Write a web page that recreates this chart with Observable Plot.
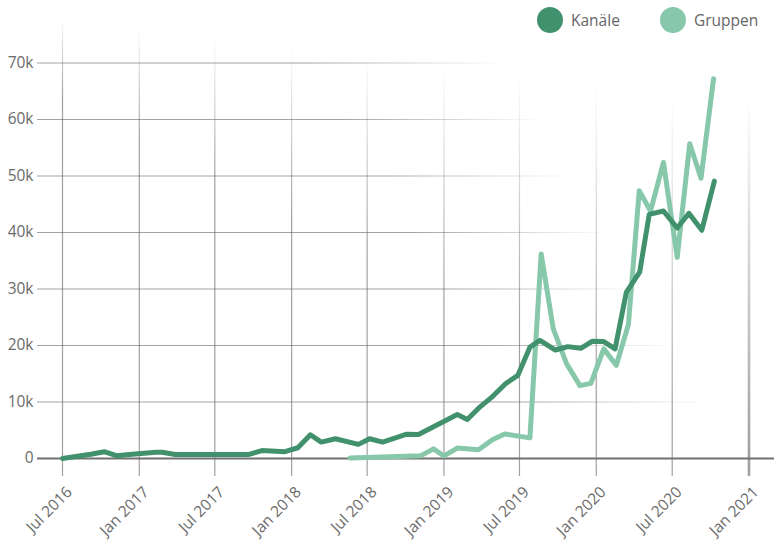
<!DOCTYPE html>
<html>
<head>
<meta charset="utf-8">
<script src="https://cdn.jsdelivr.net/npm/d3@7"></script>
<script src="https://cdn.jsdelivr.net/npm/@observablehq/plot@0.6"></script>
<style>
  html, body { margin: 0; padding: 0; background: #fff; }
  #wrap { position: relative; width: 774px; height: 543px; font-family: "Open Sans", sans-serif; }
  #legend { position: absolute; top: 0; left: 0; width: 774px; height: 40px; }
  .item { position: absolute; top: 7px; display: flex; align-items: center; gap: 8px; font-size: 15.5px; color: #666; }
  .dot { width: 26px; height: 26px; border-radius: 50%; }
</style>
</head>
<body>
<div id="wrap"><div id="legend"></div></div>
<script>
// ---- data ----
const seriesNames = ["Kanäle", "Gruppen"];
const seriesColors = ["#42916d", "#86c8a9"];

const kanaleDates = ["2016-07-01","2016-09-07","2016-10-09","2016-11-07","2016-12-22","2017-02-10","2017-02-25","2017-03-28","2017-09-19","2017-10-22","2017-12-16","2018-01-16","2018-02-15","2018-03-13","2018-04-16","2018-06-10","2018-07-07","2018-08-07","2018-10-04","2018-11-01","2019-02-02","2019-02-26","2019-03-28","2019-04-28","2019-05-28","2019-06-27","2019-07-26","2019-08-19","2019-09-25","2019-10-25","2019-11-25","2019-12-22","2020-01-19","2020-02-15","2020-03-13","2020-04-14","2020-05-07","2020-06-10","2020-07-13","2020-08-10","2020-09-10","2020-10-10"];
const kanaleValues = [0,750,1200,500,800,1100,1100,700,700,1400,1200,1900,4200,2900,3500,2500,3500,2900,4300,4250,7800,6900,9100,11000,13200,14700,19700,20900,19200,19800,19500,20750,20700,19400,29400,33000,43200,43800,40800,43400,40400,49100];

const gruppenDates = ["2018-05-21","2018-11-07","2018-12-07","2019-01-01","2019-02-02","2019-03-25","2019-04-28","2019-05-27","2019-07-26","2019-08-22","2019-09-20","2019-10-22","2019-11-23","2019-12-19","2020-01-19","2020-02-18","2020-03-18","2020-04-13","2020-05-10","2020-06-10","2020-07-13","2020-08-12","2020-09-08","2020-10-08"];
const gruppenValues = [100,500,1700,450,1850,1550,3350,4350,3650,36200,22950,16750,12900,13300,19400,16500,23700,47400,43800,52400,35600,55700,49600,67200];

const xTickDates = ["2016-07-01","2017-01-01","2017-07-01","2018-01-01","2018-07-01","2019-01-01","2019-07-01","2020-01-01","2020-07-01","2021-01-01"];
const xTickLabels = ["Jul 2016","Jan 2017","Jul 2017","Jan 2018","Jul 2018","Jan 2019","Jul 2019","Jan 2020","Jul 2020","Jan 2021"];
const yTicks = [0,10000,20000,30000,40000,50000,60000,70000];

// ---- build tables ----
const kanale = kanaleDates.map((d,i) => ({date: new Date(d), value: kanaleValues[i]}));
const gruppen = gruppenDates.map((d,i) => ({date: new Date(d), value: gruppenValues[i]}));
const xTicks = xTickDates.map(d => new Date(d));
const lastTick = xTicks[xTicks.length - 1];

const chart = Plot.plot({
  width: 774, height: 543,
  marginLeft: 37, marginRight: 0, marginTop: 18, marginBottom: 67,
  style: {fontFamily: "'Open Sans', sans-serif", fontSize: "15px", background: "transparent", color: "#6b6b6b"},
  x: {type: "utc", domain: [xTicks[0], lastTick], range: [62, 748.5], axis: null},
  y: {domain: [0, 70000], range: [458, 62.5], axis: null},
  marks: [
    Plot.ruleX(xTicks.slice(0, -1), {x: d => d, stroke: "#555", strokeWidth: 1.2, className: "vgrid"}),
    Plot.ruleX([lastTick], {x: d => d, stroke: "#555", strokeWidth: 2.6, className: "vgrid"}),
    Plot.ruleY(yTicks.filter(d => d > 0), {y: d => d, stroke: "#555", strokeWidth: 1.2, className: "hgrid"}),
    Plot.ruleY([0], {y: d => d, stroke: "#707070", strokeWidth: 2}),
    Plot.text(yTicks, {y: d => d, frameAnchor: "left", textAnchor: "end", dx: -4, fill: "#6b6b6b", fontSize: 15.5,
      text: d => d === 0 ? "0" : (d / 1000) + "k"}),
    Plot.text(xTicks, {x: d => d, frameAnchor: "bottom", rotate: -45, textAnchor: "end", lineAnchor: "middle",
      dx: 7, dy: 13, fill: "#6b6b6b", fontSize: 15.5, text: (d, i) => xTickLabels[i]}),
    Plot.line(gruppen, {x: "date", y: "value", stroke: seriesColors[1], strokeWidth: 5, strokeLinejoin: "round", strokeLinecap: "round"}),
    Plot.line(kanale, {x: "date", y: "value", stroke: seriesColors[0], strokeWidth: 5, strokeLinejoin: "round", strokeLinecap: "round"})
  ]
});

// ---- fading gradients on grid lines ----
const ns = "http://www.w3.org/2000/svg";
const defs = document.createElementNS(ns, "defs");
chart.insertBefore(defs, chart.firstChild);
let gid = 0;
function addGrad(x1, y1, x2, y2, color, op) {
  const g = document.createElementNS(ns, "linearGradient");
  const id = "gg" + (gid++);
  g.setAttribute("id", id);
  g.setAttribute("gradientUnits", "userSpaceOnUse");
  g.setAttribute("x1", x1); g.setAttribute("y1", y1);
  g.setAttribute("x2", x2); g.setAttribute("y2", y2);
  [[0, op], [1, 0]].forEach(([o, a]) => {
    const s = document.createElementNS(ns, "stop");
    s.setAttribute("offset", o);
    s.setAttribute("stop-color", color);
    s.setAttribute("stop-opacity", a);
    g.appendChild(s);
  });
  defs.appendChild(g);
  return "url(#" + id + ")";
}
chart.querySelectorAll(".hgrid line").forEach(ln => {
  const y = +ln.getAttribute("y1");
  const xe = 470 + 0.6 * y, xs = xe - 200;
  ln.setAttribute("stroke", addGrad(xs, y, xe, y, "#666", 0.6));
});
chart.querySelectorAll(".vgrid line").forEach(ln => {
  const x = +ln.getAttribute("x1");
  const ye = 18 + 0.12 * (x - 62), ys = ye + 80 + 0.4 * (x - 62);
  ln.setAttribute("stroke", addGrad(x, ys, x, ye, "#666", 0.62));
});

const wrap = document.getElementById("wrap");
wrap.insertBefore(chart, wrap.firstChild);

// ---- legend ----
const legend = d3.select("#legend");
const legendLeft = [537, 660];
seriesNames.forEach((name, i) => {
  const item = legend.append("div").attr("class", "item").style("left", legendLeft[i] + "px");
  item.append("div").attr("class", "dot").style("background", seriesColors[i]);
  item.append("span").text(name);
});
</script>
</body>
</html>
